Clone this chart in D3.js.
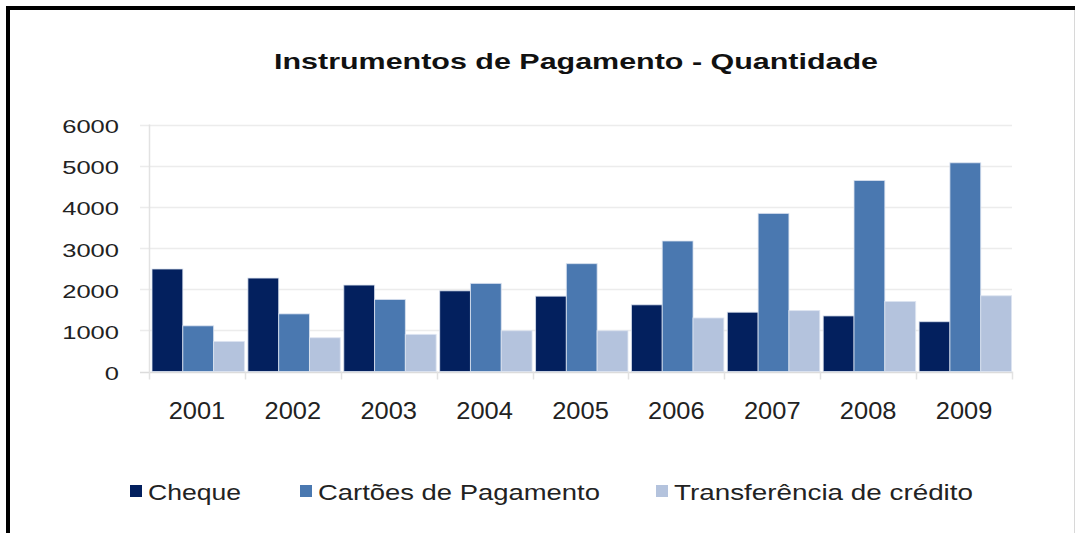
<!DOCTYPE html>
<html>
<head>
<meta charset="utf-8">
<script src="https://cdn.jsdelivr.net/npm/d3@7"></script>
<style>
  body { margin: 0; background: #fff; }
  text { font-family: "Liberation Sans", Arial, sans-serif; fill: #222; }
</style>
</head>
<body>
<div id="chart"></div>
<script>
// data
var years = ["2001", "2002", "2003", "2004", "2005", "2006", "2007", "2008", "2009"];
var cheque = [2490, 2270, 2100, 1960, 1830, 1620, 1440, 1350, 1210];
var cartoes = [1110, 1400, 1750, 2140, 2620, 3170, 3840, 4640, 5070];
var transferencia = [730, 820, 900, 990, 990, 1300, 1480, 1700, 1840];
var seriesNames = ["Cheque", "Cartões de Pagamento", "Transferência de crédito"];
var yTicks = [0, 1000, 2000, 3000, 4000, 5000, 6000];

var colors = ["#03205e", "#4a78b0", "#b4c3dd"];

var W = 1075, H = 533;
var plot = {left: 149, right: 1012, top: 124.5, bottom: 371.5};

// stretch text horizontally like the original (glyphs are wider than normal)
function stretch(sel, k) {
    sel.each(function() {
        var w = this.getComputedTextLength();
        d3.select(this).attr("textLength", w * k).attr("lengthAdjust", "spacingAndGlyphs");
    });
}

var table = years.map(function(y, i) {
    return {year: y, values: [cheque[i], cartoes[i], transferencia[i]]};
});

var svg = d3.select("#chart").append("svg")
    .attr("width", W)
    .attr("height", H);

// frame
svg.append("rect").attr("x", 6).attr("y", 6).attr("width", W - 6).attr("height", 4).attr("fill", "#000");
svg.append("rect").attr("x", 6).attr("y", 6).attr("width", 4).attr("height", H - 6).attr("fill", "#000");
svg.append("line").attr("x1", 1074.5).attr("x2", 1074.5).attr("y1", 10).attr("y2", H)
    .attr("stroke", "#d8d8d8");

var x0 = d3.scaleBand()
    .domain(years)
    .range([plot.left, plot.right])
    .paddingInner(0);

var x1 = d3.scaleBand()
    .domain(d3.range(3))
    .range([3, x0.bandwidth() - 0.5])
    .padding(0);

var y = d3.scaleLinear()
    .domain([0, 6000])
    .range([plot.bottom, plot.top]);

// gridlines
svg.append("g")
    .selectAll("line")
    .data(yTicks)
    .enter().append("line")
      .attr("x1", 140)
      .attr("x2", plot.right)
      .attr("y1", function(d) { return Math.round(y(d)) + 0.5; })
      .attr("y2", function(d) { return Math.round(y(d)) + 0.5; })
      .attr("stroke", function(d) { return d === 0 ? "#dcdcdc" : "#ececec"; })
      .attr("stroke-width", 1.5);

// y axis line
svg.append("line")
    .attr("x1", plot.left + 0.5).attr("x2", plot.left + 0.5)
    .attr("y1", plot.top).attr("y2", plot.bottom + 8)
    .attr("stroke", "#e2e2e2").attr("stroke-width", 1.5);

// category ticks
svg.append("g")
    .selectAll("line")
    .data(years.slice(1).concat(["end"]))
    .enter().append("line")
      .attr("x1", function(d, i) { return Math.round(plot.left + (i + 1) * x0.bandwidth()) + 0.5; })
      .attr("x2", function(d, i) { return Math.round(plot.left + (i + 1) * x0.bandwidth()) + 0.5; })
      .attr("y1", plot.bottom)
      .attr("y2", plot.bottom + 8)
      .attr("stroke", "#e2e2e2").attr("stroke-width", 1.5);

// bars
svg.append("g")
    .selectAll("g")
    .data(table)
    .enter().append("g")
      .attr("transform", function(d) { return "translate(" + x0(d.year) + ",0)"; })
    .selectAll("rect")
    .data(function(d) { return d.values; })
    .enter().append("rect")
      .attr("x", function(d, i) { return x1(i); })
      .attr("y", function(d) { return y(d); })
      .attr("width", x1.bandwidth())
      .attr("height", function(d) { return plot.bottom - y(d); })
      .attr("fill", function(d, i) { return colors[i]; })
      .attr("stroke", "rgba(220,228,240,0.8)")
      .attr("stroke-width", 1);

// y tick labels
var yLab = svg.append("g")
    .selectAll("text")
    .data(yTicks)
    .enter().append("text")
      .attr("x", 119)
      .attr("y", function(d) { return y(d) + 8.5; })
      .attr("text-anchor", "end")
      .style("font-size", "18.5px")
      .text(function(d) { return d; });
stretch(yLab, 1.38);

// x tick labels
var xLab = svg.append("g")
    .selectAll("text")
    .data(years)
    .enter().append("text")
      .attr("x", function(d) { return x0(d) + x0.bandwidth() / 2; })
      .attr("y", 418.5)
      .attr("text-anchor", "middle")
      .style("font-size", "24px")
      .text(function(d) { return d; });
stretch(xLab, 1.06);

// title
var title = svg.append("text")
    .attr("x", 576)
    .attr("y", 69)
    .attr("text-anchor", "middle")
    .style("font-size", "22px")
    .style("font-weight", "bold")
    .style("fill", "#111")
    .text("Instrumentos de Pagamento - Quantidade");
title.attr("textLength", 604).attr("lengthAdjust", "spacingAndGlyphs");

// legend
var legendX = [130, 300, 656];
var legendW = [93, 282, 299];
var legend = svg.selectAll(".legend")
    .data(seriesNames)
    .enter().append("g")
      .attr("class", "legend")
      .attr("transform", function(d, i) { return "translate(" + legendX[i] + ",0)"; });

legend.append("rect")
    .attr("x", 0)
    .attr("y", 485)
    .attr("width", 12)
    .attr("height", 12)
    .attr("fill", function(d, i) { return colors[i]; });

legend.append("text")
    .attr("x", 18)
    .attr("y", 500)
    .style("font-size", "22px")
    .attr("textLength", function(d, i) { return legendW[i]; })
    .attr("lengthAdjust", "spacingAndGlyphs")
    .text(function(d) { return d; });
</script>
</body>
</html>
